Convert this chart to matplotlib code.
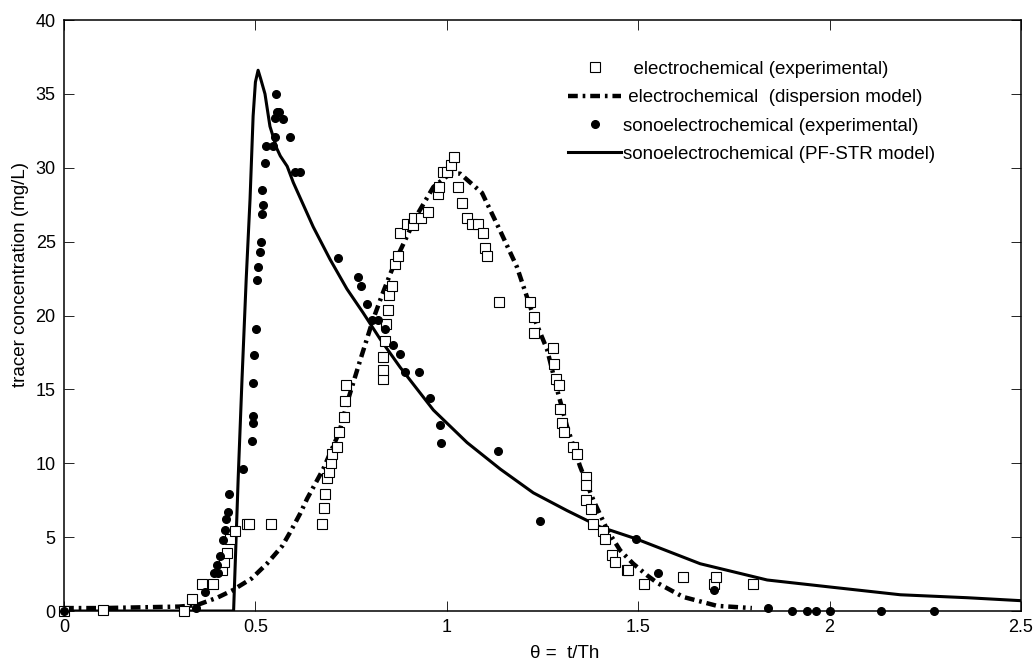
import matplotlib
matplotlib.use("Agg")
from matplotlib import pyplot as plt

plt.rcParams['font.family'] = ['Liberation Sans', 'DejaVu Sans']

# electrochemical, experimental (open squares)
ec_x = [0.0, 0.102, 0.314, 0.335, 0.361, 0.388, 0.412, 0.419, 0.427, 0.434,
        0.447, 0.477, 0.484, 0.542, 0.675, 0.680, 0.682, 0.688, 0.693, 0.697,
        0.700, 0.714, 0.719, 0.732, 0.734, 0.737, 0.833, 0.834, 0.834, 0.839,
        0.840, 0.847, 0.850, 0.858, 0.865, 0.872, 0.878, 0.897, 0.912, 0.915,
        0.933, 0.952, 0.978, 0.980, 0.990, 1.000, 1.012, 1.020, 1.030, 1.040,
        1.053, 1.066, 1.082, 1.095, 1.100, 1.106, 1.137, 1.218, 1.227, 1.229,
        1.278, 1.281, 1.286, 1.294, 1.297, 1.300, 1.307, 1.330, 1.341, 1.364,
        1.364, 1.364, 1.377, 1.383, 1.409, 1.414, 1.432, 1.440, 1.470, 1.474,
        1.516, 1.618, 1.697, 1.704, 1.799]
ec_y = [0.0, 0.05, 0.0, 0.8, 1.8, 1.8, 2.8, 3.3, 3.9, 4.9,
        5.4, 5.9, 5.9, 5.9, 5.9, 7.0, 7.9, 9.0, 9.4, 10.0,
        10.6, 11.1, 12.1, 13.1, 14.2, 15.3, 15.7, 16.3, 17.2, 18.3,
        19.4, 20.4, 21.4, 22.0, 23.5, 24.0, 25.6, 26.2, 26.1, 26.6,
        26.6, 27.0, 28.2, 28.7, 29.7, 29.7, 30.2, 30.7, 28.7, 27.6,
        26.6, 26.2, 26.2, 25.6, 24.6, 24.0, 20.9, 20.9, 19.9, 18.8,
        17.8, 16.7, 15.7, 15.3, 13.7, 12.7, 12.1, 11.1, 10.6, 9.1,
        8.5, 7.5, 6.9, 5.9, 5.4, 4.9, 3.8, 3.3, 2.8, 2.8,
        1.8, 2.3, 1.8, 2.3, 1.8]

# electrochemical, dispersion model
disp_x = [0.0, 0.1, 0.2, 0.3, 0.347, 0.40, 0.44, 0.49, 0.53, 0.57,
          0.59, 0.617, 0.635, 0.677, 0.719, 0.742, 0.774, 0.807, 0.831, 0.852,
          0.873, 0.922, 0.965, 1.009, 1.035, 1.092, 1.14, 1.183, 1.227, 1.262,
          1.288, 1.314, 1.348, 1.383, 1.419, 1.453, 1.487, 1.524, 1.55, 1.618,
          1.706, 1.797]
disp_y = [0.2, 0.2, 0.25, 0.3, 0.4, 0.9, 1.4, 2.2, 3.2, 4.4,
          5.3, 6.6, 7.6, 9.6, 12.1, 14.3, 17.0, 19.7, 21.4, 22.8,
          24.1, 26.8, 28.7, 29.6, 29.6, 28.3, 25.7, 23.3, 19.9, 17.7,
          15.0, 12.5, 9.8, 7.5, 5.5, 4.1, 3.2, 2.4, 1.9, 0.95,
          0.35, 0.2]

# sonoelectrochemical, experimental (filled circles)
so_x = [0.0, 0.345, 0.369, 0.392, 0.403, 0.400, 0.408, 0.415, 0.420, 0.423,
        0.429, 0.432, 0.468, 0.491, 0.494, 0.494, 0.494, 0.497, 0.502, 0.505,
        0.508, 0.512, 0.515, 0.517, 0.520, 0.518, 0.526, 0.528, 0.546, 0.551,
        0.551, 0.554, 0.557, 0.561, 0.572, 0.590, 0.604, 0.617, 0.717, 0.769,
        0.776, 0.791, 0.804, 0.820, 0.839, 0.860, 0.878, 0.892, 0.928, 0.955,
        0.983, 0.986, 1.135, 1.244, 1.493, 1.553, 1.697, 1.838, 1.903, 1.942,
        1.965, 2.000, 2.135, 2.274]
so_y = [0.0, 0.2, 1.3, 2.6, 2.6, 3.1, 3.7, 4.8, 5.5, 6.2,
        6.7, 7.9, 9.6, 11.5, 12.7, 13.2, 15.4, 17.3, 19.1, 22.4,
        23.3, 24.3, 25.0, 26.9, 27.5, 28.5, 30.3, 31.5, 31.5, 32.1,
        33.4, 35.0, 33.8, 33.8, 33.3, 32.1, 29.7, 29.7, 23.9, 22.6,
        22.0, 20.8, 19.7, 19.7, 19.1, 18.0, 17.4, 16.2, 16.2, 14.4,
        12.6, 11.4, 10.8, 6.1, 4.9, 2.6, 1.4, 0.2, 0.0, 0.0,
        0.0, 0.0, 0.0, 0.0]

# sonoelectrochemical, PF-STR model
pf_x = [0.0, 0.443, 0.455, 0.465, 0.476, 0.486, 0.494, 0.500, 0.507, 0.514,
        0.525, 0.538, 0.556, 0.565, 0.583, 0.599, 0.651, 0.695, 0.739, 0.781,
        0.826, 0.878, 0.965, 1.053, 1.14, 1.226, 1.314, 1.40, 1.493, 1.662,
        1.837, 2.01, 2.185, 2.36, 2.5]
pf_y = [0.0, 0.0, 9.0, 15.7, 22.5, 27.9, 33.5, 35.8, 36.6, 36.0,
        35.0, 32.8, 31.3, 30.8, 30.1, 29.0, 26.0, 23.8, 21.8, 20.2,
        18.4, 16.5, 13.6, 11.4, 9.6, 8.0, 6.8, 5.7, 4.9, 3.2,
        2.1, 1.6, 1.1, 0.9, 0.7]

x_ticks = [0, 0.5, 1, 1.5, 2, 2.5]
x_tick_labels = ['0', '0.5', '1', '1.5', '2', '2.5']
y_ticks = [0, 5, 10, 15, 20, 25, 30, 35, 40]

fig = plt.figure(figsize=(10.36, 6.63), dpi=100)
ax = fig.add_axes([0.0618, 0.0784, 0.9237, 0.8914])

ax.plot(ec_x, ec_y, 's', color='k', mfc='white', mec='black', ms=7, mew=0.8,
        label='  electrochemical (experimental)', clip_on=False, zorder=3)
ax.plot(disp_x, disp_y, color='black', lw=3.2, linestyle=(0, (2.2, 1.1, 0.6, 1.1)),
        label=' electrochemical  (dispersion model)', zorder=2)
ax.plot(so_x, so_y, 'o', color='black', ms=5.5,
        label='sonoelectrochemical (experimental)', clip_on=False, zorder=4)
ax.plot(pf_x, pf_y, color='black', lw=2.2,
        label='sonoelectrochemical (PF-STR model)', zorder=2)

ax.set_xlim(0, 2.5)
ax.set_ylim(0, 40)
ax.set_xticks(x_ticks)
ax.set_xticklabels(x_tick_labels)
ax.set_yticks(y_ticks)
ax.tick_params(direction='in', length=7, width=0.6, top=True, right=True,
               labelsize=13, pad=6, colors='black')
for s in ax.spines.values():
    s.set_linewidth(1.1)

ax.set_ylabel('tracer concentration (mg/L)', fontsize=13.5)
ax.yaxis.set_label_coords(-0.037, 0.569)
ax.set_xlabel('\u03b8 =  t/Th', fontsize=13.5)
ax.xaxis.set_label_coords(0.523, -0.058)

ax.legend(loc='upper left', bbox_to_anchor=(0.527, 0.931), frameon=False,
          fontsize=13.5, handlelength=2.8, handletextpad=0.1,
          labelspacing=0.6, borderaxespad=0, borderpad=0)

plt.savefig('out.png', dpi=100)
